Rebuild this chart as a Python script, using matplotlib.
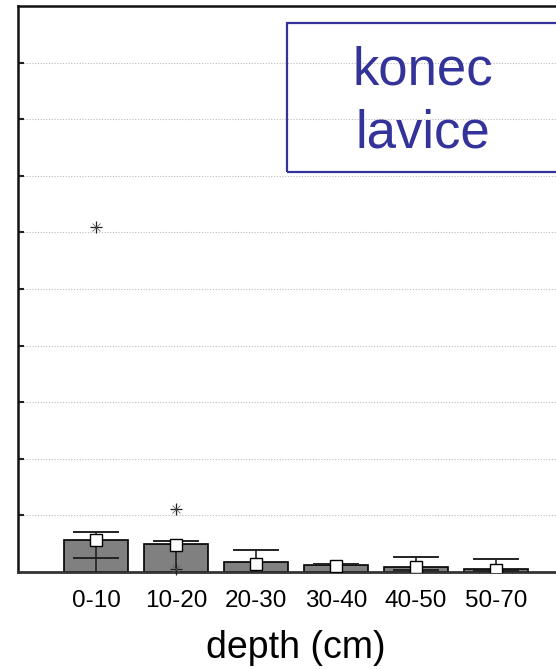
import matplotlib
matplotlib.use("Agg")
import matplotlib.pyplot as plt
from matplotlib.patches import Rectangle

plt.rcParams['font.family'] = ['Liberation Sans', 'DejaVu Sans']

categories = ["0-10", "10-20", "20-30", "30-40", "40-50", "50-70"]
bar_top = [0.57, 0.49, 0.17, 0.12, 0.09, 0.05]
median = [0.56, 0.48, 0.15, 0.11, 0.09, 0.03]
whisker_hi = [0.70, 0.54, 0.38, 0.15, 0.26, 0.23]
lower_line = [0.25, 0.00, 0.00, 0.00, 0.03, 0.02]
outlier_x = [0, 1, 1]
outlier_y = [6.10, 1.11, 0.05]
yticks = [1, 2, 3, 4, 5, 6, 7, 8, 9]

W, H = 556, 669
fig = plt.figure(figsize=(W / 100, H / 100), dpi=100)
ax = fig.add_axes([18 / W, (H - 572) / H, 1 - 18 / W, (572 - 6) / H])

pos = list(range(len(categories)))
ax.bar(pos, bar_top, width=0.8, color="#808080", edgecolor="black", linewidth=1.2, zorder=2)
cap = 0.28
for i in pos:
    ax.plot([i, i], [0, whisker_hi[i]], color="#222222", lw=1.2, zorder=3)
    ax.plot([i - cap, i + cap], [whisker_hi[i]] * 2, color="#222222", lw=1.4, zorder=3)
    if lower_line[i] > 0:
        ax.plot([i - cap, i + cap], [lower_line[i]] * 2, color="#222222", lw=1.4, zorder=3)
ax.plot(pos, median, linestyle="none", marker="s", markersize=8, markerfacecolor="white",
        markeredgecolor="black", markeredgewidth=1.0, zorder=4)
ax.plot(outlier_x, outlier_y, linestyle="none", marker="+", markersize=8, color="#222222",
        markeredgewidth=0.9, zorder=5, clip_on=False)
ax.plot(outlier_x, outlier_y, linestyle="none", marker="x", markersize=6, color="#555555",
        markeredgewidth=0.5, zorder=5, clip_on=False)

ax.set_xlim(-0.975, 5.75)
ax.set_ylim(0, 10)
ax.set_yticks(yticks)
ax.set_yticklabels([])
ax.tick_params(axis="y", direction="in", length=4, width=1.5, color="#222222")
ax.set_xticks(pos)
ax.set_xticklabels(categories, fontsize=17.5)
ax.tick_params(axis="x", length=0, pad=13)
ax.grid(axis="y", color="#bbbbbb", linestyle=(0, (1, 1.5)), linewidth=0.8)
ax.set_axisbelow(True)
ax.spines["right"].set_visible(False)
ax.spines["left"].set_linewidth(1.8)
ax.spines["left"].set_color("#111111")
ax.spines["top"].set_linewidth(1.8)
ax.spines["top"].set_color("#111111")
ax.spines["bottom"].set_linewidth(2.0)
ax.spines["bottom"].set_color("#333333")

fig.text(296 / W, 1 - 648 / H, "depth (cm)", fontsize=27, ha="center", va="center")

box = Rectangle((287 / W, (H - 172) / H), 0.6, (172 - 23) / H, transform=fig.transFigure,
                fill=False, edgecolor="#333399", linewidth=1.6, zorder=10)
fig.patches.append(box)
fig.text(423 / W, 1 - 102 / H, "konec\nlavice", fontsize=38, color="#333399",
         ha="center", va="center", linespacing=1.32, zorder=11)

fig.savefig("out.png", dpi=100)
